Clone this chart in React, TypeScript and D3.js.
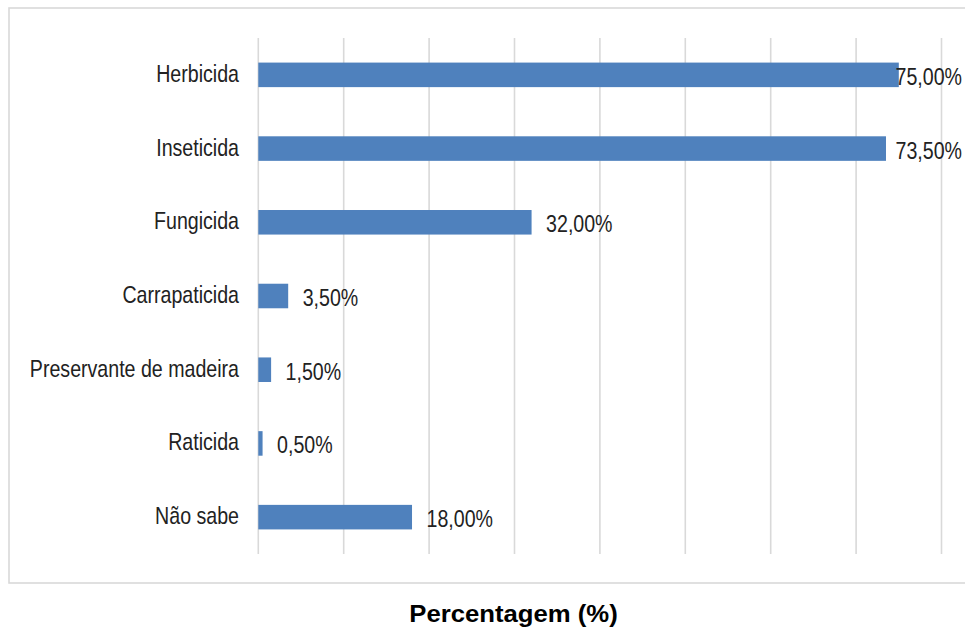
import React from "react";
import * as d3 from "d3";

// Categories and their percentages (bar chart, horizontal)
const categories: string[] = [
  "Herbicida",
  "Inseticida",
  "Fungicida",
  "Carrapaticida",
  "Preservante de madeira",
  "Raticida",
  "Não sabe",
];
const values: number[] = [75, 73.5, 32, 3.5, 1.5, 0.5, 18];
const xTicks: number[] = [0, 10, 20, 30, 40, 50, 60, 70, 80];
const axisTitle = "Percentagem (%)";

const W = 965;
const H = 630;
const plot = { left: 258.3, right: 941.5, top: 38, bottom: 554 };
const FONT = "'Liberation Sans', Arial, sans-serif";
const FS = 24.2; // font size for labels
const SX = 0.81; // horizontal squeeze of labels
const labelRightLimit = 962;

const ptBR = d3.formatLocale({
  decimal: ",",
  thousands: ".",
  grouping: [3],
  currency: ["R$", ""],
});
const fmt = ptBR.format(".2f");

// rough Arial advance widths for the value labels
const charW: Record<string, number> = { ",": 0.278, "%": 0.889 };
function estWidth(s: string): number {
  let w = 0;
  for (const c of s) w += charW[c] ?? 0.556;
  return w * FS * SX;
}

export default function App() {
  const x = d3.scaleLinear().domain([0, 80]).range([plot.left, plot.right]);
  const y = d3
    .scaleBand<string>()
    .domain(categories)
    .range([plot.top, plot.bottom])
    .paddingInner(0.667)
    .paddingOuter(0.667 / 2);
  const bw = y.bandwidth();

  return (
    <svg
      width={W}
      height={H}
      style={{ position: "fixed", left: 0, top: 0, background: "#fff" }}
    >
      {/* chart frame */}
      <rect
        x={9}
        y={8}
        width={W + 20}
        height={575}
        fill="#fff"
        stroke="#d9d9d9"
        strokeWidth={1.6}
      />
      {/* vertical gridlines */}
      {xTicks.map((t) => (
        <line
          key={t}
          x1={x(t)}
          x2={x(t)}
          y1={plot.top}
          y2={plot.bottom}
          stroke="#d9d9d9"
          strokeWidth={1.6}
        />
      ))}
      {/* bars */}
      {categories.map((c, i) => (
        <rect
          key={c}
          x={x(0)}
          y={y(c)!}
          width={x(values[i]) - x(0)}
          height={bw}
          fill="#4f81bd"
        />
      ))}
      {/* category labels */}
      {categories.map((c) => {
        const cy = y(c)! + bw / 2;
        return (
          <g key={c} transform={`translate(239,${cy + 7}) scale(${SX},1)`}>
            <text
              textAnchor="end"
              fontFamily={FONT}
              fontSize={FS}
              fill="#222"
            >
              {c}
            </text>
          </g>
        );
      })}
      {/* value labels */}
      {categories.map((c, i) => {
        const cy = y(c)! + bw / 2;
        const s = fmt(values[i]) + "%";
        const start = x(values[i]) + 14.5;
        const clamp = start + estWidth(s) > labelRightLimit;
        const tx = clamp ? labelRightLimit : start;
        return (
          <g key={c} transform={`translate(${tx},${cy + 10}) scale(${SX},1)`}>
            <text
              textAnchor={clamp ? "end" : "start"}
              fontFamily={FONT}
              fontSize={FS}
              fill="#222"
            >
              {s}
            </text>
          </g>
        );
      })}
      {/* axis title */}
      <g transform={`translate(513.5,622) scale(1.08,1)`}>
        <text
          textAnchor="middle"
          fontFamily={FONT}
          fontSize={23.8}
          fontWeight="bold"
          fill="#000"
        >
          {axisTitle}
        </text>
      </g>
    </svg>
  );
}
